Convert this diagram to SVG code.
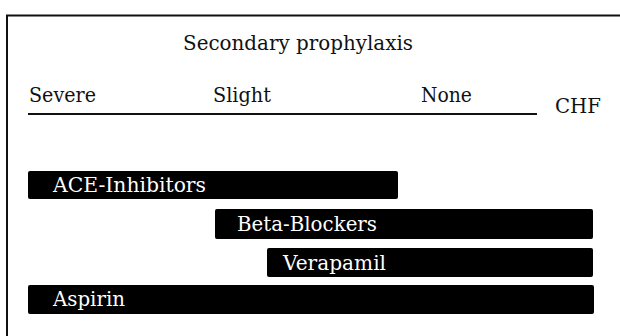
<svg xmlns="http://www.w3.org/2000/svg" width="620" height="336" viewBox="0 0 620 336">
<style>
.t{font-family:"DejaVu Serif","Liberation Serif",serif;font-size:20px;fill:#111}
.b{fill:#000}
.bt{font-family:"DejaVu Serif","Liberation Serif",serif;font-size:20px;fill:#fff}
.ln{stroke:#111;stroke-width:2;fill:none}
</style>
<rect width="620" height="336" fill="#fff"/>
<g id="frame">
<path class="ln" d="M7,336 V15.5 H620"/>
</g>
<g id="header">
<text class="t" x="183" y="50" textLength="230" lengthAdjust="spacingAndGlyphs">Secondary prophylaxis</text>
<text class="t" x="29" y="102" textLength="67" lengthAdjust="spacingAndGlyphs">Severe</text>
<text class="t" x="213" y="102" textLength="58" lengthAdjust="spacingAndGlyphs">Slight</text>
<text class="t" x="421" y="102" textLength="51" lengthAdjust="spacingAndGlyphs">None</text>
<text class="t" x="555" y="113" textLength="46" lengthAdjust="spacingAndGlyphs">CHF</text>
</g>
<g id="connectors">
<line class="ln" x1="28" y1="114" x2="537" y2="114"/>
</g>
<g id="ace">
<rect class="b" x="28" y="171" width="370" height="28" rx="2"/>
<text class="bt" x="53" y="192" textLength="153" lengthAdjust="spacingAndGlyphs">ACE-Inhibitors</text>
</g>
<g id="beta">
<rect class="b" x="215" y="209" width="378" height="30" rx="2"/>
<text class="bt" x="237" y="231" textLength="140" lengthAdjust="spacingAndGlyphs">Beta-Blockers</text>
</g>
<g id="verapamil">
<rect class="b" x="267" y="248" width="326" height="29" rx="2"/>
<text class="bt" x="283" y="270" textLength="103" lengthAdjust="spacingAndGlyphs">Verapamil</text>
</g>
<g id="aspirin">
<rect class="b" x="28" y="285" width="566" height="29" rx="2"/>
<text class="bt" x="53" y="306" textLength="72" lengthAdjust="spacingAndGlyphs">Aspirin</text>
</g>
</svg>
